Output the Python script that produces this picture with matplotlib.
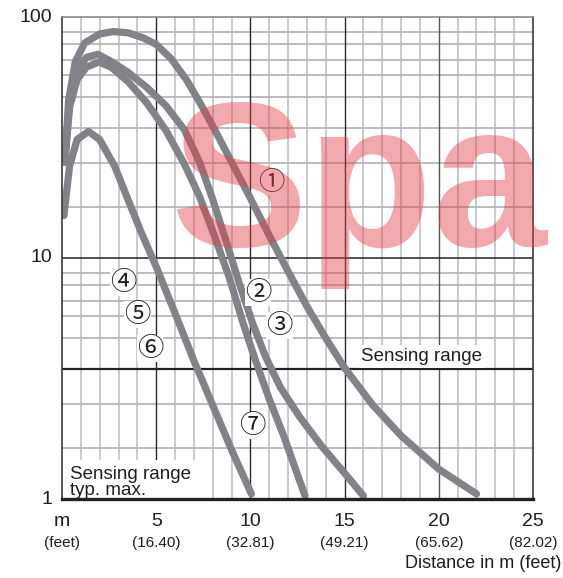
import matplotlib.pyplot as plt
from matplotlib.ticker import NullLocator

plt.rcParams['font.family'] = ['Liberation Sans', 'DejaVu Sans']

# curves: distance in m vs. excess gain (log)
c1_x = [0.15, 0.35, 0.7, 1.2, 2.0, 2.7, 3.5, 4.3, 5.0, 5.8, 6.6, 7.4, 8.2, 9.0, 10.0,
        11.0, 12.0, 13.0, 14.0, 15.0, 16.5, 18.0, 20.0, 22.0]
c1_y = [25, 45, 65, 78, 85, 87, 86, 82, 77, 67, 55, 43, 33, 25, 17.7,
        12.4, 8.8, 6.3, 4.65, 3.5, 2.45, 1.83, 1.33, 1.05]

c2_x = [0.15, 0.4, 0.8, 1.3, 1.9, 2.6, 3.5, 4.5, 5.5, 6.5, 7.3, 8.0, 8.7, 9.4,
        10.1, 10.8, 11.6, 12.6, 13.8, 15.0, 16.0]
c2_y = [25, 45, 60, 68, 70, 65.5, 59, 51, 43, 34, 25, 17.5, 11.8, 7.9,
        5.4, 3.9, 2.9, 2.2, 1.65, 1.28, 1.03]

c3_x = [0.15, 0.4, 0.8, 1.3, 1.95, 2.6, 3.5, 4.5, 5.5, 6.5, 7.3, 8.1, 8.9, 9.6,
        10.3, 11.0, 11.8, 12.9]
c3_y = [25, 42, 55, 62, 65, 62, 54, 44, 34, 24.5, 18, 12.3, 8.2, 5.4,
        3.7, 2.6, 1.8, 1.03]

c4_x = [0.1, 0.4, 0.8, 1.4, 2.0, 2.8, 3.5, 4.2, 5.0, 6.0, 7.0, 8.0, 9.0, 10.05]
c4_y = [15, 24, 31, 33.5, 31, 24, 17.5, 12.8, 9.2, 5.9, 3.75, 2.45, 1.6, 1.05]

x_ticks = [0, 5, 10, 15, 20, 25]
x_top = ['m', '5', '10', '15', '20', '25']
x_bottom = ['(feet)', '(16.40)', '(32.81)', '(49.21)', '(65.62)', '(82.02)']
y_ticks = [1, 10, 100]
y_labels = ['1', '10', '100']
y_grid = [1.63, 2.48, 3.46, 4.65, 5.74, 6.63, 7.72, 8.66]
sensing = 3.46

labels = ['①', '②', '③', '④', '⑤', '⑥', '⑦']
label_x = [11.1, 10.4, 11.55, 3.23, 4.0, 4.67, 10.1]
label_y = [20.5, 7.2, 5.27, 7.9, 5.85, 4.2, 2.02]

fig = plt.figure(figsize=(5.63, 5.78), dpi=100)
ax = fig.add_axes([62 / 563, 1 - 499 / 578, 471 / 563, 482 / 578])
ax.set_yscale('log')
ax.set_xlim(0, 25)
ax.set_ylim(1, 100)
ax.xaxis.set_major_locator(NullLocator())
ax.yaxis.set_major_locator(NullLocator())
ax.yaxis.set_minor_locator(NullLocator())
ax.tick_params(which='both', length=0)

# grid
for m in range(1, 25):
    if m % 5:
        ax.axvline(m, color='#c6c6c8', lw=1.3, zorder=1)
    else:
        ax.axvline(m, color='#2a2a2a' if m < 20 else '#555555', lw=1.0, zorder=1.5)
for dec in [1, 10]:
    for f in y_grid:
        ax.axhline(dec * f, color='#b6b6b8', lw=1.3, zorder=1)
ax.axhline(10, color='#222222', lw=1.1, zorder=1.5)
ax.axhline(sensing, color='#222222', lw=1.6, zorder=1.5)

for s in ['left', 'right']:
    ax.spines[s].set_color('#3a3a3a')
    ax.spines[s].set_linewidth(1.2)
ax.spines['top'].set_color('#8a8a8a')
ax.spines['top'].set_linewidth(1.2)
ax.spines['bottom'].set_color('#222222')
ax.spines['bottom'].set_linewidth(2.4)
for s in ax.spines.values():
    s.set_zorder(6)

# curves
for xs, ys in [(c1_x, c1_y), (c2_x, c2_y), (c3_x, c3_y), (c4_x, c4_y)]:
    ax.plot(xs, ys, color='#808388', lw=5.2, solid_capstyle='round',
            solid_joinstyle='round', zorder=3)

# curve labels
for t, lx, ly in zip(labels, label_x, label_y):
    ax.text(lx, ly, t, fontsize=19, ha='center', va='center', color='#1e1e1e',
            family=['Noto Sans CJK JP', 'DejaVu Sans'], zorder=4,
            bbox=dict(boxstyle='square,pad=0.0', fc='white', ec='none'))

ax.annotate('Sensing range', xy=(19.1, sensing), xytext=(0, 3),
            textcoords='offset points', ha='center', va='bottom', fontsize=13.5,
            color='#1e1e1e', zorder=4,
            bbox=dict(boxstyle='square,pad=0.15', fc='white', ec='none'))
ax.text(0.42, 1.17, 'Sensing range\ntyp. max.', fontsize=13.5, ha='left',
        va='center', linespacing=0.95, color='#1e1e1e', zorder=4,
        bbox=dict(boxstyle='square,pad=0.3', fc='white', ec='none'))

# tick labels
for xv, t1, t2 in zip(x_ticks, x_top, x_bottom):
    ax.annotate(t1, xy=(xv, 0), xycoords=('data', 'axes fraction'),
                xytext=(0, -16), textcoords='offset points', ha='center',
                va='center', fontsize=14, color='#1e1e1e')
    ax.annotate(t2, xy=(xv, 0), xycoords=('data', 'axes fraction'),
                xytext=(0, -32), textcoords='offset points', ha='center',
                va='center', fontsize=11, color='#1e1e1e')
for yv, t in zip(y_ticks, y_labels):
    ax.annotate(t, xy=(0, yv), xycoords=('axes fraction', 'data'),
                xytext=(-7, 0), textcoords='offset points', ha='right',
                va='center', fontsize=14, color='#1e1e1e')
fig.text(0.998, 1 - 563 / 578, 'Distance in m (feet)', ha='right', va='center',
         fontsize=13, color='#1e1e1e')

# watermark
fig.text(170 / 563, 1 - 246 / 578, 'Spa', fontsize=148, fontweight='bold',
         color='#e0404a', alpha=0.45, ha='left', va='baseline', zorder=10)

fig.savefig('out.png', dpi=100)
